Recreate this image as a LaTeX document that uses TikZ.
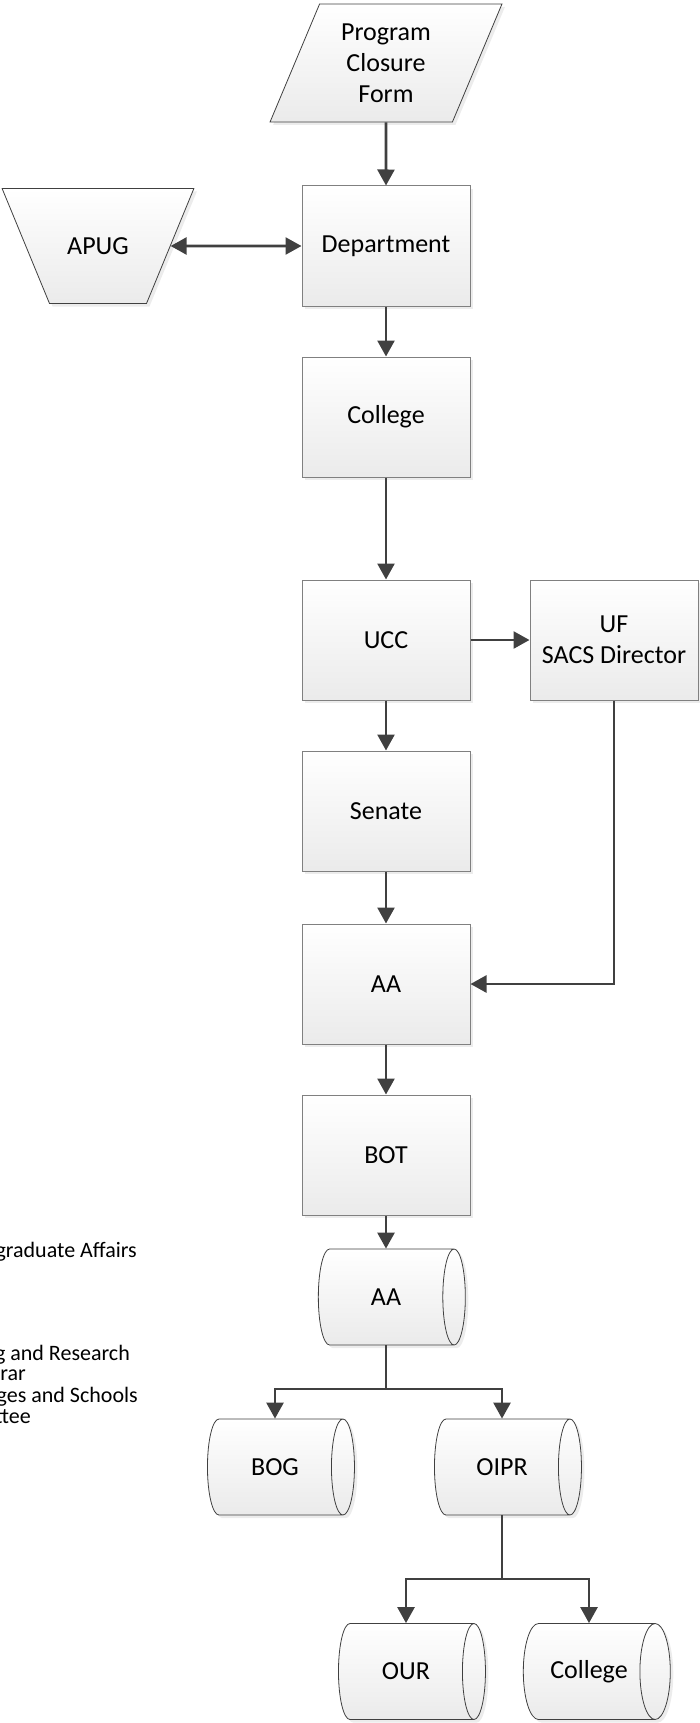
\documentclass[tikz,border=0pt]{standalone}
\usepackage{fontspec}
\setmainfont{Carlito}
\usetikzlibrary{shapes.geometric,arrows.meta,shadows}
\definecolor{linegray}{HTML}{404040}
\definecolor{boxgray}{HTML}{808080}
\begin{document}
\begin{tikzpicture}[x=1pt,y=-1pt]
\tikzset{
    base/.style={top color=white, bottom color=black!8, align=center, inner sep=0pt,
        drop shadow={shadow xshift=3pt, shadow yshift=-3pt, opacity=0.15},
        font=\fontsize{26}{31}\selectfont},
    box/.style={base, rectangle, draw=boxgray, line width=1pt, minimum width=168pt, minimum height=120pt},
    store/.style={base, cylinder, draw=linegray, line width=0.8pt, aspect=1.35, minimum height=147pt, minimum width=96pt},
    slant/.style={base, trapezium, draw=linegray, line width=0.8pt},
    wire/.style={draw=linegray, line width=2.6pt},
    arr/.style={wire, -{Triangle[length=16pt,width=17pt]}},
    note/.style={anchor=base east, inner sep=0pt, font=\fontsize{22}{21}\selectfont}
}
\useasboundingbox (0,0) rectangle (699,1723);
% legend, cut off at the left edge
\node[note] (n1) at (137,1257) {graduate Affairs};
\node[note] (n2) at (130,1360) {g and Research};
\node[note] (n3) at (26,1380) {trar};
\node[note] (n4) at (138,1402) {eges and Schools};
\node[note] (n5) at (31,1423) {ttee};
% main column
\node[slant, trapezium stretches=true, trapezium left angle=67, trapezium right angle=113, minimum width=232pt, minimum height=118pt] (form) at (386,63) {Program\\Closure\\Form};
\node[slant, shape border rotate=180, trapezium left angle=67.6, trapezium right angle=67.6, text width=97pt, text height=65.9pt, text depth=49.1pt] (apug) at (98,246) {APUG};
\foreach \name/\txt/\y in {dept/Department/246, college/College/417, ucc/UCC/640, senate/Senate/811, aa/AA/984, bot/BOT/1155}
{
  \node[box] (\name) at (386,\y) {\txt};
}
\node[box] (sacs) at (614,640) {UF\\SACS Director};
\node[store] (aa2) at (386,1297) {AA};
\node[store] (bog) at (275,1467) {BOG};
\node[store] (oipr) at (502,1467) {OIPR};
\node[store] (our) at (406,1671.5) {OUR};
\node[store] (college2) at (589,1671.5) {College};
% connectors
\foreach \a/\b in {form/dept, dept/college, college/ucc, ucc/senate, senate/aa, aa/bot, ucc/sacs}
  \draw[arr] (\a) -- (\b);
\draw[arr, {Triangle[length=16pt,width=17pt]}-{Triangle[length=16pt,width=17pt]}] (apug) -- (dept);
\draw[arr] (sacs.south) |- (aa.east);
\draw[arr] (bot) -- (aa2.center |- aa2.north);
\coordinate (fork1) at (386,1389);
\coordinate (fork2) at (502,1579);
\draw[wire] (aa2.center |- aa2.south) -- (fork1);
\draw[arr] (fork1) -| (bog.center |- bog.north);
\draw[arr] (fork1) -| (oipr.center |- oipr.north);
\draw[wire] (oipr.center |- oipr.south) -- (fork2);
\draw[arr] (fork2) -| (our.center |- our.north);
\draw[arr] (fork2) -| (college2.center |- college2.north);
\end{tikzpicture}
\end{document}
